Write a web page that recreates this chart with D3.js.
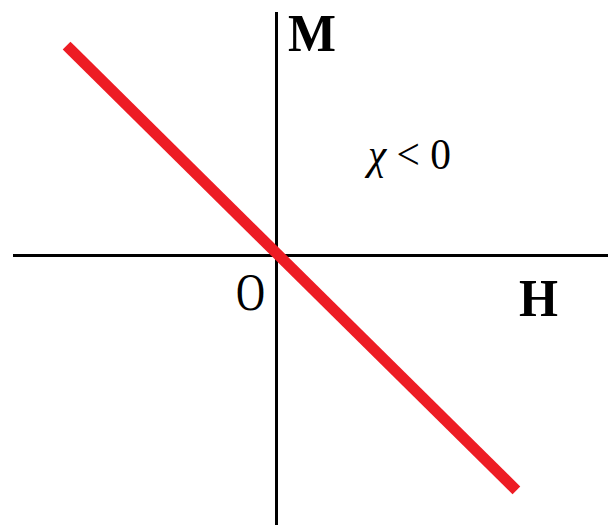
<!DOCTYPE html>
<html>
<head>
<meta charset="utf-8">
<script src="https://cdn.jsdelivr.net/npm/d3@7"></script>
<style>
  html, body { margin: 0; padding: 0; background: #fff; }
  svg { display: block; }
  text { font-family: "Liberation Serif", "Times New Roman", serif; fill: #000; }
</style>
</head>
<body>
<script>
// Axis extents (arbitrary field / magnetisation units)
const hAxisExtent = [-5.27, 6.63];
const mAxisExtent = [-5.39, 4.87];

// Linear response M = χH with χ < 0
const lineH = [-4.12, 4.72];
const lineM = [4.12, -4.62];

// Labels
const labelM = "M";
const labelH = "H";
const labelOrigin = "O";
const labelChiSymbol = "χ";
const labelChiRest = " < 0";

const width = 608, height = 525;

const x = d3.scaleLinear().domain([-5, 5]).range([26.5, 526.5]);
const y = d3.scaleLinear().domain([-5, 5]).range([505.5, 5.5]);

const svg = d3.select("body").append("svg")
  .attr("width", width)
  .attr("height", height);

// Axes through the origin
svg.append("line")
  .attr("x1", x(hAxisExtent[0])).attr("x2", x(hAxisExtent[1]))
  .attr("y1", y(0)).attr("y2", y(0))
  .attr("stroke", "#000").attr("stroke-width", 3);

svg.append("line")
  .attr("x1", x(0)).attr("x2", x(0))
  .attr("y1", y(mAxisExtent[1])).attr("y2", y(mAxisExtent[0]))
  .attr("stroke", "#000").attr("stroke-width", 3);

// Response line
const pts = lineH.map((h, i) => [h, lineM[i]]);
svg.append("path")
  .datum(pts)
  .attr("d", d3.line().x(d => x(d[0])).y(d => y(d[1])))
  .attr("fill", "none")
  .attr("stroke", "#ed1c24")
  .attr("stroke-width", 11)
  .attr("stroke-linecap", "square");

// Labels
svg.append("text")
  .attr("x", 288).attr("y", 50.5)
  .attr("font-size", 52).attr("font-weight", "bold")
  .attr("textLength", 48).attr("lengthAdjust", "spacingAndGlyphs")
  .text(labelM);

svg.append("text")
  .attr("x", 519).attr("y", 316)
  .attr("font-size", 53).attr("font-weight", "bold")
  .attr("textLength", 39).attr("lengthAdjust", "spacingAndGlyphs")
  .text(labelH);

svg.append("text")
  .attr("x", 236).attr("y", 310)
  .attr("font-size", 53)
  .attr("textLength", 29).attr("lengthAdjust", "spacingAndGlyphs")
  .text(labelOrigin);

const chi = svg.append("text")
  .attr("x", 368).attr("y", 169)
  .attr("font-size", 44)
  .attr("textLength", 83).attr("lengthAdjust", "spacingAndGlyphs");
chi.append("tspan")
  .attr("font-style", "italic")
  .text(labelChiSymbol);
chi.append("tspan")
  .text(labelChiRest);
</script>
</body>
</html>
